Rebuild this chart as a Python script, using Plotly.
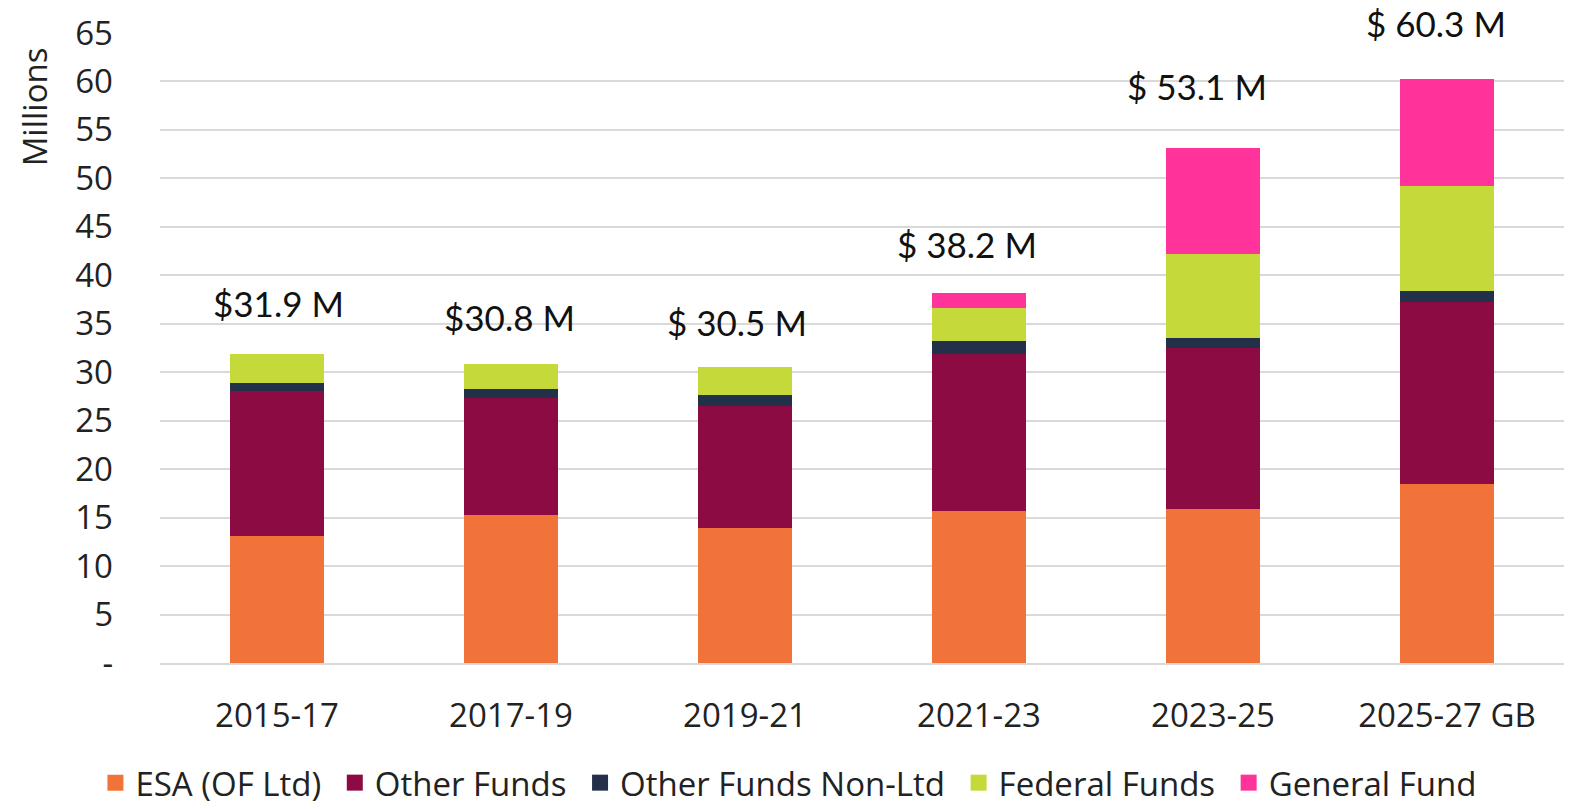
import plotly.graph_objects as go

categories = ["2015-17", "2017-19", "2019-21", "2021-23", "2023-25", "2025-27 GB"]
esa = [13.1, 15.3, 13.9, 15.7, 15.9, 18.5]
other_funds = [15.0, 12.0, 12.6, 16.2, 16.6, 18.7]
other_non_ltd = [0.8, 1.0, 1.2, 1.3, 1.0, 1.2]
federal = [3.0, 2.5, 2.8, 3.4, 8.7, 10.8]
general = [0.0, 0.0, 0.0, 1.6, 10.9, 11.1]
totals = [31.9, 30.8, 30.5, 38.2, 53.1, 60.3]
total_labels = ["$31.9 M", "$30.8 M", "$ 30.5 M", "$ 38.2 M", "$ 53.1 M", "$ 60.3 M"]
label_yshift = [51, 47, 45, 49, 62, 56]
label_xshift = [1, -2, -8, -12, -16, -11]

tick_vals = list(range(0, 70, 5))
tick_text = ["-"] + [str(v) for v in tick_vals[1:]]

series = [
    ("ESA (OF Ltd)", esa, "#F2733A"),
    ("Other Funds", other_funds, "#8B0B42"),
    ("Other Funds Non-Ltd", other_non_ltd, "#22304A"),
    ("Federal Funds", federal, "#C5D93B"),
    ("General Fund", general, "#FF3399"),
]

fig = go.Figure()
for name, vals, color in series:
    fig.add_trace(go.Bar(x=categories, y=vals, name=name, showlegend=False,
                         marker=dict(color=color, line=dict(width=0))))
# legend entries with larger square swatches
for i, (name, vals, color) in enumerate(series):
    label = name + ("\u00a0" if i < len(series) - 1 else "")
    fig.add_trace(go.Scatter(x=[None], y=[None], name=label, mode="markers",
                             marker=dict(symbol="square", size=20, color=color)))

for cat, tot, txt, ys, xs in zip(categories, totals, total_labels, label_yshift, label_xshift):
    fig.add_annotation(x=cat, y=tot, text=txt, showarrow=False, yshift=ys, xshift=xs,
                       font=dict(family="Lato, Open Sans, sans-serif", size=35, color="#111111"))

fig.add_annotation(xref="paper", yref="paper", x=-0.0893, y=0.883, text="Millions", textangle=-90,
                   showarrow=False, xanchor="center", yanchor="middle",
                   font=dict(family="Open Sans, sans-serif", size=33, color="#222222"))

fig.update_layout(
    barmode="stack",
    bargap=0.598,
    width=1573, height=809,
    margin=dict(l=160, r=9, t=33, b=146, autoexpand=False),
    plot_bgcolor="white", paper_bgcolor="white",
    font=dict(family="Open Sans, sans-serif", color="#222222"),
    legend=dict(orientation="h", x=0.4476, xanchor="center", y=-0.19, yanchor="middle",
                font=dict(family="Open Sans, sans-serif", size=33, color="#222222"),
                traceorder="normal", itemwidth=30, tracegroupgap=0),
    xaxis=dict(tickfont=dict(family="Open Sans, sans-serif", size=33), showgrid=False,
               showline=True, linecolor="#D9D9D9", linewidth=1.5, ticks="", ticklabelstandoff=23),
    yaxis=dict(range=[0, 65], tickvals=tick_vals, ticktext=tick_text,
               tickfont=dict(family="Open Sans, sans-serif", size=33),
               showgrid=True, gridcolor="#D9D9D9", gridwidth=1.5, zeroline=False, ticklabelstandoff=46),
)

fig.write_html("out.html", config={"displayModeBar": False},
               post_script="document.body.style.margin='0';document.body.style.overflow='hidden';")
